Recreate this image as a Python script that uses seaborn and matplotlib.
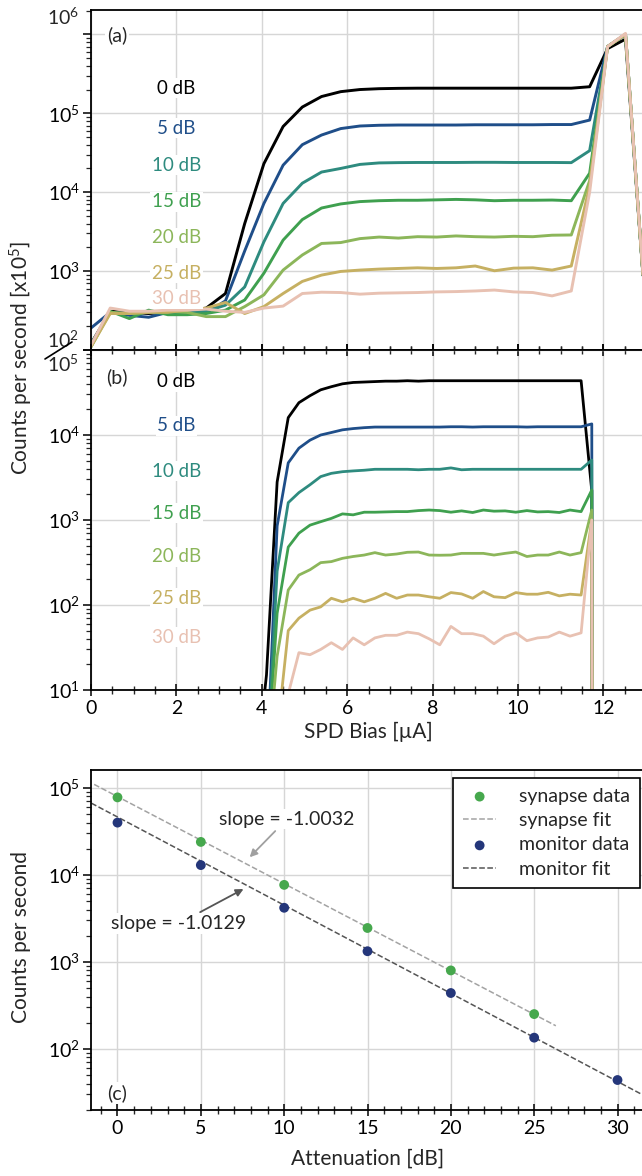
import numpy as np
import pandas as pd
import matplotlib
matplotlib.use('Agg')
import matplotlib.pyplot as plt
import seaborn as sns
from matplotlib.ticker import MultipleLocator, LogLocator, NullFormatter
from matplotlib.lines import Line2D

# ---- data -------------------------------------------------------------
atten_labels = ['0 dB', '5 dB', '10 dB', '15 dB', '20 dB', '25 dB', '30 dB']
colors = ['#000000', '#1f4e89', '#2e8b7f', '#3fa04f', '#8cb65a', '#c6b062', '#e8c1b2']

# (a) bias sweep
bias_a = [0, 0.45, 0.9, 1.35, 1.8, 2.25, 2.7, 3.15, 3.6, 4.05, 4.5, 4.95, 5.4, 5.85, 6.3,
          6.75, 7.2, 7.65, 8.1, 8.55, 9.0, 9.45, 9.9, 10.35, 10.8, 11.25, 11.68, 12.1, 12.52, 13.0]
a_0 = [120, 310, 300, 290, 300, 310, 340, 520, 4000, 23000, 68000, 120000, 163000, 188000, 200000,
       205000, 207000, 208000, 208000, 208000, 208000, 208000, 208000, 208000, 208000, 208000,
       217000, 660000, 870000, 270]
a_5 = [190, 300, 275, 260, 300, 300, 295, 420, 1800, 7200, 22000, 40000, 53000, 64000, 69000,
       70500, 71000, 71000, 71000, 71000, 71500, 71500, 71500, 71500, 72000, 72000,
       82000, 700000, 1000000, 270]
a_10 = [120, 300, 290, 300, 290, 300, 310, 370, 630, 2350, 7200, 13000, 18000, 20000, 22500,
        23500, 23700, 23800, 23800, 23800, 23900, 23900, 23800, 23800, 23800, 23700,
        33600, 700000, 1000000, 270]
a_15 = [110, 310, 250, 320, 280, 280, 290, 320, 430, 940, 2470, 4500, 6300, 7100, 7600,
        7800, 7900, 7900, 8000, 8100, 8000, 7800, 7900, 7900, 7950, 7800,
        17400, 700000, 1000000, 270]
a_20 = [110, 300, 290, 300, 310, 300, 265, 265, 355, 500, 1030, 1600, 2240, 2300, 2580,
        2700, 2620, 2730, 2700, 2790, 2730, 2700, 2760, 2730, 2850, 2870,
        14000, 700000, 1000000, 270]
a_25 = [110, 290, 290, 300, 300, 320, 340, 400, 290, 355, 520, 740, 890, 990, 1030,
        1060, 1080, 1100, 1080, 1100, 1160, 1010, 1090, 1100, 1030, 1160,
        12000, 700000, 1000000, 270]
a_30 = [115, 340, 310, 310, 320, 320, 330, 310, 300, 340, 360, 520, 540, 535, 510,
        525, 530, 535, 545, 550, 560, 575, 545, 535, 485, 560,
        10000, 700000, 1030000, 270]

# (b) bias sweep
bias_b = [3.86, 4.11, 4.36, 4.62, 4.87, 5.13, 5.38, 5.63, 5.89, 6.14, 6.40, 6.65, 6.90, 7.16,
          7.41, 7.67, 7.92, 8.17, 8.43, 8.68, 8.94, 9.19, 9.44, 9.70, 9.95, 10.21, 10.46,
          10.71, 10.97, 11.22, 11.48, 11.73, 11.74]
b_0 = [1, 15, 2800, 16000, 24000, 29000, 34000, 37000, 40000, 41500, 42000, 42500, 43000, 43000,
       43500, 43000, 43500, 43500, 43500, 43500, 43500, 43500, 43500, 43500, 43500, 43500, 43500,
       43500, 43500, 43500, 43500, 2200, 1]
b_5 = [1, 1, 850, 4700, 7000, 8700, 10000, 10700, 11500, 11900, 12200, 12400, 12400, 12400,
       12400, 12400, 12400, 12400, 12500, 12500, 12400, 12500, 12500, 12500, 12500, 12400, 12500,
       12500, 12500, 12500, 12500, 13500, 1]
b_10 = [1, 1, 250, 1600, 2100, 2600, 3240, 3540, 3700, 3780, 3850, 3950, 3950, 3950,
        3950, 3900, 3950, 3950, 4100, 3900, 3950, 3950, 3950, 3950, 3950, 3950, 3950,
        3950, 3950, 3950, 3950, 5080, 1]
b_15 = [1, 1, 80, 480, 700, 870, 955, 1045, 1180, 1150, 1235, 1235, 1245, 1255,
        1255, 1290, 1310, 1290, 1235, 1280, 1225, 1310, 1270, 1280, 1235, 1290, 1245,
        1255, 1225, 1310, 1255, 2250, 1]
b_20 = [1, 1, 25, 150, 225, 260, 315, 324, 354, 372, 387, 413, 387, 398,
        417, 420, 387, 385, 387, 405, 405, 405, 387, 405, 420, 372, 387,
        387, 420, 387, 413, 1310, 1]
b_25 = [1, 1, 3, 50, 70, 87, 95, 120, 109, 120, 109, 120, 137, 120,
        131, 131, 125, 120, 140, 135, 120, 144, 125, 122, 140, 134, 134,
        141, 128, 134, 131, 1000, 1]
b_30 = [1, 1, 1, 9, 27.5, 26, 30, 36, 30, 41, 34, 41, 44, 44,
        48, 46, 40, 34, 56, 46, 46, 43, 35, 43, 47, 38, 41,
        42, 48, 43, 47, 1000, 1]

label_x = 2.0
label_y_a = [2.07e5, 6.46e4, 2.2e4, 7.6e3, 2.65e3, 938, 443]
label_y_b = [4.24e4, 1.28e4, 3.77e3, 1.2e3, 370, 120, 42]

# (c) attenuation sweep
syn_atten = [0, 5, 10, 15, 20, 25]
syn_counts = [78000, 24000, 7700, 2460, 800, 252]
mon_atten = [0, 5, 10, 15, 20, 25, 30]
mon_counts = [40000, 13000, 4200, 1330, 440, 135, 44]
syn_fit_x = [-1.4, 26.3]
syn_fit_y = [1.1e5, 185]
mon_fit_x = [-2.0, 33.0]
mon_fit_y = [7.4e4, 21]

# ---- style ------------------------------------------------------------
sns.set_theme(style='whitegrid')
plt.rcParams['font.family'] = ['Lato', 'DejaVu Sans']
plt.rcParams['mathtext.fontset'] = 'custom'
plt.rcParams['mathtext.rm'] = 'Lato'
plt.rcParams['mathtext.it'] = 'Lato:italic'
plt.rcParams['mathtext.bf'] = 'Lato:bold'
plt.rcParams['mathtext.default'] = 'regular'
plt.rcParams['axes.unicode_minus'] = False

FS = 14      # tick labels, legend, notes
FS_LAB = 15  # axis titles
FS_DB = 13.5
W, H = 642, 1176


def style_axes(ax, minor_x):
    for s in ax.spines.values():
        s.set_color('black')
        s.set_linewidth(1.3)
    ax.spines['right'].set_visible(False)
    ax.set_axisbelow(True)
    ax.grid(True, which='major', color='#d6d6d6', lw=1.0)
    ax.grid(False, which='minor')
    ax.xaxis.set_minor_locator(MultipleLocator(minor_x))
    ax.yaxis.set_minor_locator(LogLocator(base=10, subs=np.arange(2, 10), numticks=30))
    ax.yaxis.set_minor_formatter(NullFormatter())
    ax.tick_params(axis='x', which='major', direction='inout', length=9, width=1.1,
                   bottom=True, labelsize=FS, colors='black', pad=3)
    ax.tick_params(axis='x', which='minor', direction='inout', length=6, width=1.0, bottom=True)
    ax.tick_params(axis='y', which='major', direction='out', length=6, width=1.1,
                   left=True, labelsize=FS, colors='black', pad=2)
    ax.tick_params(axis='y', which='minor', direction='out', length=3.5, width=0.9, left=True)
    ax.set_xlabel('')
    ax.set_ylabel('')


def long_frame(x, series):
    rows = []
    for lab, ys in zip(atten_labels, series):
        for xi, yi in zip(x, ys):
            rows.append((xi, yi, lab))
    return pd.DataFrame(rows, columns=['bias', 'counts', 'atten'])


fig = plt.figure(figsize=(W / 100, H / 100), dpi=100)
ax_a = fig.add_axes([91 / W, 1 - 350 / H, 555 / W, 340 / H])
ax_b = fig.add_axes([91 / W, 1 - 690 / H, 555 / W, 340 / H])
ax_c = fig.add_axes([91 / W, 1 - 1110 / H, 559 / W, 340 / H])

box = dict(boxstyle='square,pad=0.08', fc='white', ec='none')

# ---- (a) --------------------------------------------------------------
df_a = long_frame(bias_a, [a_0, a_5, a_10, a_15, a_20, a_25, a_30])
sns.lineplot(data=df_a, x='bias', y='counts', hue='atten', palette=colors, ax=ax_a,
             legend=False, linewidth=2.1, estimator=None, sort=False)
ax_a.set_yscale('log')
ax_a.set_xlim(0, 13)
ax_a.set_ylim(1e2, 10 ** 6.309)
ax_a.set_yticks([1e2, 1e3, 1e4, 1e5, 1e6], labels=['', '$10^3$', '$10^4$', '$10^5$', ''])
style_axes(ax_a, 0.5)
ax_a.xaxis.set_major_locator(MultipleLocator(2))
ax_a.tick_params(axis='x', labelbottom=False)
ax_a.text(-0.0215, 0.984, '$10^6$', transform=ax_a.transAxes, ha='right', va='center_baseline', fontsize=FS)
ax_a.text(-0.0215, 0.034, '$10^2$', transform=ax_a.transAxes, ha='right', va='center_baseline', fontsize=FS)
for lab, yv, c in zip(atten_labels, label_y_a, colors):
    ax_a.text(label_x, yv, lab, color=c, ha='center', va='center', fontsize=FS_DB, bbox=box)
ax_a.text(0.047, 0.925, '(a)', transform=ax_a.transAxes, ha='center', va='center', fontsize=FS, bbox=box)

# ---- (b) --------------------------------------------------------------
df_b = long_frame(bias_b, [b_0, b_5, b_10, b_15, b_20, b_25, b_30])
sns.lineplot(data=df_b, x='bias', y='counts', hue='atten', palette=colors, ax=ax_b,
             legend=False, linewidth=2.0, estimator=None, sort=False)
ax_b.set_yscale('log')
ax_b.set_xlim(0, 13)
ax_b.set_ylim(1e1, 1e5)
ax_b.set_yticks([1e1, 1e2, 1e3, 1e4, 1e5], labels=['$10^1$', '$10^2$', '$10^3$', '$10^4$', ''])
style_axes(ax_b, 0.5)
ax_b.xaxis.set_major_locator(MultipleLocator(2))
ax_b.tick_params(axis='x', which='both', top=True)
ax_b.text(-0.0215, 0.963, '$10^5$', transform=ax_b.transAxes, ha='right', va='center_baseline', fontsize=FS)
for lab, yv, c in zip(atten_labels, label_y_b, colors):
    ax_b.text(label_x, yv, lab, color=c, ha='center', va='center', fontsize=FS_DB, bbox=box)
ax_b.text(0.047, 0.919, '(b)', transform=ax_b.transAxes, ha='center', va='center', fontsize=FS, bbox=box)

# axis break mark and shared labels
fig.add_artist(Line2D([45 / W, 72 / W], [1 - 359 / H, 1 - 342 / H], color='black', lw=1.2))
fig.text(21 / W, 1 - 358 / H, 'Counts per second [x10$^5$]', rotation=90, ha='center', va='center', fontsize=FS_LAB)
fig.text(368 / W, 1 - 732 / H, 'SPD Bias [µA]', ha='center', va='center', fontsize=FS_LAB)

# ---- (c) --------------------------------------------------------------
sns.scatterplot(x=syn_atten, y=syn_counts, ax=ax_c, color='#46a84d', s=50, edgecolor='none',
                label='synapse data', zorder=3)
sns.lineplot(x=syn_fit_x, y=syn_fit_y, ax=ax_c, color='#a3a3a3', linewidth=1.1, linestyle='--',
             label='synapse fit', estimator=None, sort=False)
sns.scatterplot(x=mon_atten, y=mon_counts, ax=ax_c, color='#24367a', s=50, edgecolor='none',
                label='monitor data', zorder=3)
sns.lineplot(x=mon_fit_x, y=mon_fit_y, ax=ax_c, color='#555555', linewidth=1.1, linestyle='--',
             label='monitor fit', estimator=None, sort=False)
ax_c.set_yscale('log')
ax_c.set_xlim(-1.59, 31.95)
style_axes(ax_c, 1)
ax_c.xaxis.set_major_locator(MultipleLocator(5))
ax_c.set_yticks([1e2, 1e3, 1e4, 1e5])
ax_c.set_ylim(19.9, 1.61e5)

ax_c.annotate('slope = -1.0032', xy=(7.93, 1.6e4), xytext=(10.17, 4.4e4), ha='center', va='center',
              fontsize=FS, bbox=box,
              arrowprops=dict(arrowstyle='-|>', color='#a0a0a0', lw=1.3, mutation_scale=11,
                              shrinkA=2, shrinkB=0))
ax_c.annotate('slope = -1.0129', xy=(7.56, 6.9e3), xytext=(3.68, 2.77e3), ha='center', va='center',
              fontsize=FS, bbox=box,
              arrowprops=dict(arrowstyle='-|>', color='#555555', lw=1.3, mutation_scale=11,
                              shrinkA=2, shrinkB=0))
ax_c.text(0.047, 0.05, '(c)', transform=ax_c.transAxes, ha='center', va='center', fontsize=FS, bbox=box)

leg = ax_c.legend(loc='upper right', bbox_to_anchor=(0.9825, 0.9765), borderaxespad=0,
                  frameon=True, fancybox=False, framealpha=1, edgecolor='black', fontsize=FS,
                  handlelength=1.7, handletextpad=1.2, labelspacing=0.38, borderpad=0.5)
leg.get_frame().set_linewidth(1.2)

fig.text(21 / W, 1 - 937 / H, 'Counts per second', rotation=90, ha='center', va='center', fontsize=FS_LAB)
fig.text(368 / W, 1 - 1159 / H, 'Attenuation [dB]', ha='center', va='center', fontsize=FS_LAB)

fig.savefig('out.png', dpi=100)
